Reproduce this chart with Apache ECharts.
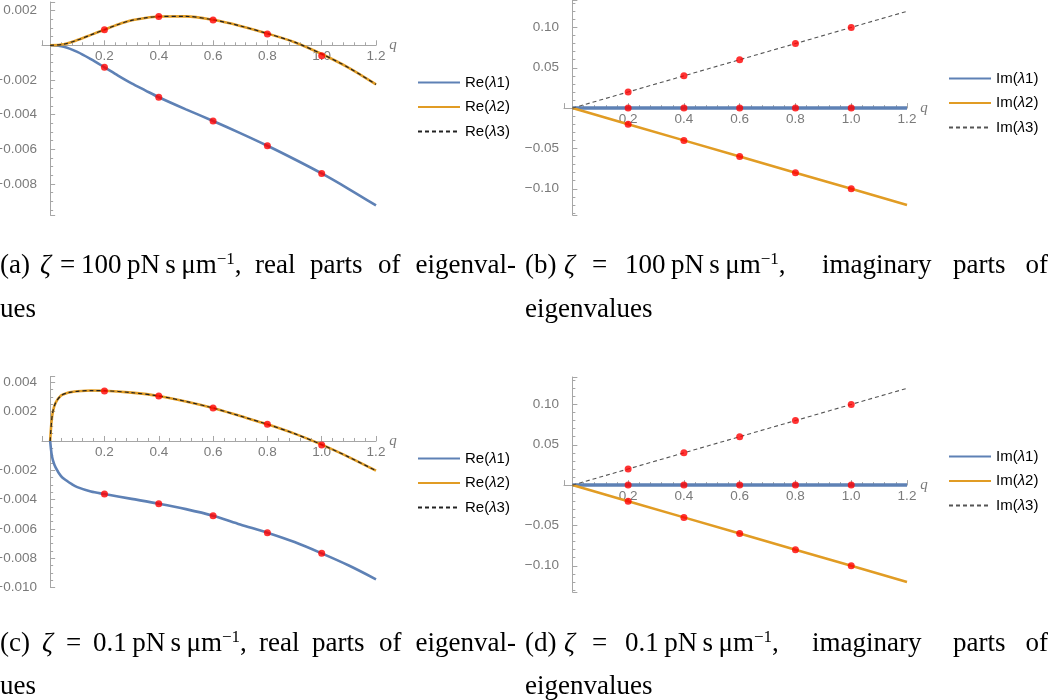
<!DOCTYPE html>
<html>
<head>
<meta charset="utf-8">
<script src="https://cdn.jsdelivr.net/npm/echarts@6/dist/echarts.min.js"></script>
<style>
  html, body { margin: 0; padding: 0; background: #fff; }
  #chart { width: 1050px; height: 700px; }
</style>
</head>
<body>
<div id="chart"></div>
<script>
// ---------- DATA ----------
// Panel (a): zeta = 100, real parts
const qA   = [0, 0.05, 0.1, 0.15, 0.2, 0.25, 0.3, 0.35, 0.4, 0.5, 0.6, 0.7, 0.8, 0.9, 1.0, 1.1, 1.2];
const re1A = [0, -0.00008, -0.00038, -0.0008, -0.00127, -0.00175, -0.0022, -0.0026, -0.003, -0.0037, -0.00437, -0.00507, -0.0058, -0.00658, -0.0074, -0.0083, -0.00925];
const re2A = [0, 0.00006, 0.0003, 0.0006, 0.0009, 0.0012, 0.00144, 0.00158, 0.00166, 0.00167, 0.00147, 0.00112, 0.00068, 0.00018, -0.0005, -0.0013, -0.00226];
const re3A = [0, 0.00006, 0.0003, 0.0006, 0.0009, 0.0012, 0.00144, 0.00158, 0.00166, 0.00167, 0.00147, 0.00112, 0.00068, 0.00018, -0.0005, -0.0013, -0.00226];

// Numerical check points (red dots)
const qDots     = [0.2, 0.4, 0.6, 0.8, 1.0];
const re1ADots  = [-0.00127, -0.003, -0.00437, -0.0058, -0.0074];
const re2ADots  = [0.0009, 0.00166, 0.00146, 0.00065, -0.0006];

// Panel (b): zeta = 100, imaginary parts
const qB   = [0, 0.2, 0.4, 0.6, 0.8, 1.0, 1.2];
const im1B = [0, 0, 0, 0, 0, 0, 0];
const im2B = [0, -0.02, -0.04, -0.06, -0.08, -0.10, -0.12];
const im3B = [0, 0.02, 0.04, 0.06, 0.08, 0.10, 0.12];
const im1BDots = [0, 0, 0, 0, 0];
const im2BDots = [-0.02, -0.04, -0.06, -0.08, -0.10];
const im3BDots = [0.02, 0.04, 0.06, 0.08, 0.10];

// Panel (c): zeta = 0.1, real parts
const qC   = [0, 0.005, 0.01, 0.02, 0.04, 0.06, 0.08, 0.1, 0.15, 0.2, 0.3, 0.4, 0.5, 0.6, 0.7, 0.8, 0.9, 1.0, 1.1, 1.2];
const re1C = [0, -0.00085, -0.0013, -0.0018, -0.0024, -0.0027, -0.00295, -0.00315, -0.00345, -0.00362, -0.00395, -0.00428, -0.00465, -0.0051, -0.0057, -0.00626, -0.0069, -0.00767, -0.0085, -0.00944];
const re2C = [0, 0.0013, 0.002, 0.0026, 0.0031, 0.00326, 0.00334, 0.00339, 0.00344, 0.00343, 0.0033, 0.00307, 0.0027, 0.00225, 0.0017, 0.00114, 0.0005, -0.00025, -0.0011, -0.00203];
const re3C = [0, 0.0013, 0.002, 0.0026, 0.0031, 0.00326, 0.00334, 0.00339, 0.00344, 0.00343, 0.0033, 0.00307, 0.0027, 0.00225, 0.0017, 0.00114, 0.0005, -0.00025, -0.0011, -0.00203];
const re1CDots = [-0.00362, -0.00428, -0.0051, -0.00626, -0.00767];
const re2CDots = [0.00341, 0.00307, 0.00225, 0.00114, -0.00027];

// Panel (d): zeta = 0.1, imaginary parts
const qD   = [0, 0.2, 0.4, 0.6, 0.8, 1.0, 1.2];
const im1D = [0, 0, 0, 0, 0, 0, 0];
const im2D = [0, -0.02, -0.04, -0.06, -0.08, -0.10, -0.12];
const im3D = [0, 0.02, 0.04, 0.06, 0.08, 0.10, 0.12];
const im1DDots = [0, 0, 0, 0, 0];
const im2DDots = [-0.02, -0.04, -0.06, -0.08, -0.10];
const im3DDots = [0.02, 0.04, 0.06, 0.08, 0.10];

const namesRe = ['Re(λ1)', 'Re(λ2)', 'Re(λ3)'];
const namesIm = ['Im(λ1)', 'Im(λ2)', 'Im(λ3)'];

// ---------- STYLE / LAYOUT ----------
const BLUE = '#5E81B5', ORANGE = '#E19C24', RED = '#FF0000';
const AXIS = '#a6a6a6', LABEL = '#7a7a7a';
const zip = (xs, ys) => xs.map((x, i) => [x, ys[i]]);

const grids = [
  { left: 42,  top: 2,     width: 334, height: 213 },
  { left: 564, top: 0,     width: 343, height: 215 },
  { left: 42,  top: 376.5, width: 334, height: 211 },
  { left: 564, top: 377,   width: 343, height: 215 }
];
const yRanges = [[-0.0098, 0.0025], [-0.1325, 0.134], [-0.010, 0.0044], [-0.1325, 0.134]];

function stepFormatter(step, digits) {
  return v => {
    if (Math.abs(v) < 1e-12) return '';
    const k = v / step;
    if (Math.abs(k - Math.round(k)) > 1e-6) return '';
    return (v < 0 ? '\u2212' : '') + Math.abs(v).toFixed(digits);
  };
}

function xAxisCfg(gi) {
  // place the x axis on the y = 0 line of its grid (moved up from the bottom edge)
  const r = yRanges[gi], h = grids[gi].height;
  const off = -h * (0 - r[0]) / (r[1] - r[0]);
  return {
    type: 'value', gridIndex: gi, min: -0.03, max: 1.2, position: 'bottom', offset: off,
    name: 'q', nameLocation: 'end', nameGap: 12,
    nameTextStyle: { fontStyle: 'italic', color: LABEL, fontSize: 15, fontFamily: 'Liberation Serif', verticalAlign: 'middle' },
    axisLine: { onZero: false, lineStyle: { color: AXIS, width: 1 } },
    axisTick: { inside: true, length: 5, lineStyle: { color: AXIS } },
    minorTick: { show: true, splitNumber: 5, length: 3, lineStyle: { color: AXIS } },
    splitLine: { show: false },
    axisLabel: { formatter: v => (v > 0.01 ? v.toFixed(1) : ''), color: LABEL, fontSize: 13.5, fontFamily: 'Liberation Sans', margin: 4 }
  };
}
function yAxisCfg(gi, step, digits, extra) {
  return Object.assign({
    type: 'value', gridIndex: gi, min: yRanges[gi][0], max: yRanges[gi][1],
    axisLine: { onZero: true, lineStyle: { color: AXIS, width: 1 } },
    axisTick: { inside: true, length: 5, lineStyle: { color: AXIS } },
    minorTick: { show: true, splitNumber: (step === 0.05 ? 5 : 4), length: 3, lineStyle: { color: AXIS } },
    splitLine: { show: false },
    axisLabel: { formatter: stepFormatter(step, digits), color: LABEL, fontSize: 13.5, fontFamily: 'Liberation Sans', margin: 5 }
  }, extra || {});
}
function line(name, gi, data, color, width, dashed, z, smooth) {
  return {
    name: name, type: 'line', xAxisIndex: gi, yAxisIndex: gi, data: data,
    symbol: 'none', smooth: smooth || false, animation: false, z: z,
    lineStyle: { color: color, width: width, type: dashed ? [4, 3] : 'solid' },
    itemStyle: { color: color }
  };
}
function dots(gi, data) {
  return {
    type: 'scatter', xAxisIndex: gi, yAxisIndex: gi, data: data,
    symbol: 'circle', symbolSize: 7, itemStyle: { color: RED }, z: 10, animation: false, silent: true
  };
}
function legendCfg(names, left, top) {
  return {
    data: names, orient: 'vertical', left: left, top: top,
    itemWidth: 42, itemHeight: 14, itemGap: 9.5,
    itemStyle: { color: 'rgba(0,0,0,0)', borderWidth: 0, opacity: 0 },
    textStyle: { color: '#000', fontSize: 15, fontFamily: 'Liberation Sans', rich: { i: { fontStyle: 'italic', fontSize: 15, fontFamily: 'Liberation Sans', color: '#000' } } },
    formatter: n => n.replace('λ', '{i|λ}'),
    selectedMode: false
  };
}

const CAP = '"Liberation Serif", "DejaVu Serif", serif';
const CS = 27;
function cap(text, x, y, align) {
  return {
    type: 'text', x: x, y: y, silent: true,
    style: { text: text, font: CS + 'px ' + CAP, fill: '#000',
             align: align || 'left', verticalAlign: 'middle', textAlign: align || 'left', textVerticalAlign: 'middle' }
  };
}
function capRich(parts, x, y) {
  return {
    type: 'text', x: x, y: y, silent: true,
    style: {
      text: parts, fill: '#000', font: CS + 'px ' + CAP,
      align: 'left', verticalAlign: 'middle', textAlign: 'left', textVerticalAlign: 'middle',
      rich: {
        n: { fontSize: CS, fontFamily: CAP, color: '#000' },
        i: { fontSize: CS, fontFamily: CAP, fontStyle: 'italic', color: '#000' },
        s: { fontSize: 17, fontFamily: CAP, color: '#000', padding: [0, 0, 13, 0] }
      }
    }
  };
}
const TS = '\u2009';
const unit = (num) => '{n|' + num + TS + 'pN' + TS + 's' + TS + 'μm}{s|−1}{n|,}';

const option = {
  backgroundColor: '#ffffff',
  animation: false,
  grid: grids.map(g => Object.assign({ containLabel: false, outerBoundsMode: 'none' }, g)),
  xAxis: [xAxisCfg(0), xAxisCfg(1), xAxisCfg(2), xAxisCfg(3)],
  yAxis: [
    yAxisCfg(0, 0.002, 3),
    yAxisCfg(1, 0.05, 2),
    yAxisCfg(2, 0.002, 3, { interval: 0.002 }),
    yAxisCfg(3, 0.05, 2)
  ],
  legend: [
    legendCfg(namesRe, 412, 70),
    legendCfg(namesIm, 943, 66),
    legendCfg(namesRe, 412, 446),
    legendCfg(namesIm, 943, 444)
  ],
  series: [
    line(namesRe[0], 0, zip(qA, re1A), BLUE, 2.6, false, 3, 0.3),
    line(namesRe[1], 0, zip(qA, re2A), ORANGE, 2.6, false, 3, 0.3),
    line(namesRe[2], 0, zip(qA, re3A), '#222', 1.2, true, 4, 0.3),
    dots(0, zip(qDots, re1ADots)),
    dots(0, zip(qDots, re2ADots)),

    line(namesIm[0], 1, zip(qB, im1B), BLUE, 3.5, false, 3),
    line(namesIm[1], 1, zip(qB, im2B), ORANGE, 2.6, false, 3),
    line(namesIm[2], 1, zip(qB, im3B), '#555', 1.1, true, 4),
    dots(1, zip(qDots, im1BDots)),
    dots(1, zip(qDots, im2BDots)),
    dots(1, zip(qDots, im3BDots)),

    line(namesRe[0], 2, zip(qC, re1C), BLUE, 2.6, false, 3, 0.3),
    line(namesRe[1], 2, zip(qC, re2C), ORANGE, 2.6, false, 3, 0.3),
    line(namesRe[2], 2, zip(qC, re3C), '#222', 1.2, true, 4, 0.3),
    dots(2, zip(qDots, re1CDots)),
    dots(2, zip(qDots, re2CDots)),

    line(namesIm[0], 3, zip(qD, im1D), BLUE, 3.5, false, 3),
    line(namesIm[1], 3, zip(qD, im2D), ORANGE, 2.6, false, 3),
    line(namesIm[2], 3, zip(qD, im3D), '#555', 1.1, true, 4),
    dots(3, zip(qDots, im1DDots)),
    dots(3, zip(qDots, im2DDots)),
    dots(3, zip(qDots, im3DDots))
  ],
  graphic: [
    // (a)
    cap('(a)', 0, 266), capRich('{i|ζ}', 40, 266), cap('=', 60, 266),
    capRich(unit('100'), 81, 266),
    cap('real', 255, 266), cap('parts', 310, 266), cap('of', 378, 266), cap('eigenval-', 516, 266, 'right'),
    cap('ues', 0, 310),
    // (b)
    cap('(b)', 525, 266), capRich('{i|ζ}', 564, 266), cap('=', 592, 266),
    capRich(unit('100'), 625, 266),
    cap('imaginary', 822, 266), cap('parts', 953, 266), cap('of', 1048, 266, 'right'),
    cap('eigenvalues', 525, 310),
    // (c)
    cap('(c)', 0, 644), capRich('{i|ζ}', 42, 644), cap('=', 66, 644),
    capRich(unit('0.1'), 93, 644),
    cap('real', 259, 644), cap('parts', 312, 644), cap('of', 379, 644), cap('eigenval-', 516, 644, 'right'),
    cap('ues', 0, 687),
    // (d)
    cap('(d)', 525, 644), capRich('{i|ζ}', 564, 644), cap('=', 592, 644),
    capRich(unit('0.1'), 625, 644),
    cap('imaginary', 812, 644), cap('parts', 953, 644), cap('of', 1048, 644, 'right'),
    cap('eigenvalues', 525, 687)
  ]
};

const chart = echarts.init(document.getElementById('chart'), null, { renderer: 'canvas' });
chart.setOption(option);
</script>
</body>
</html>
